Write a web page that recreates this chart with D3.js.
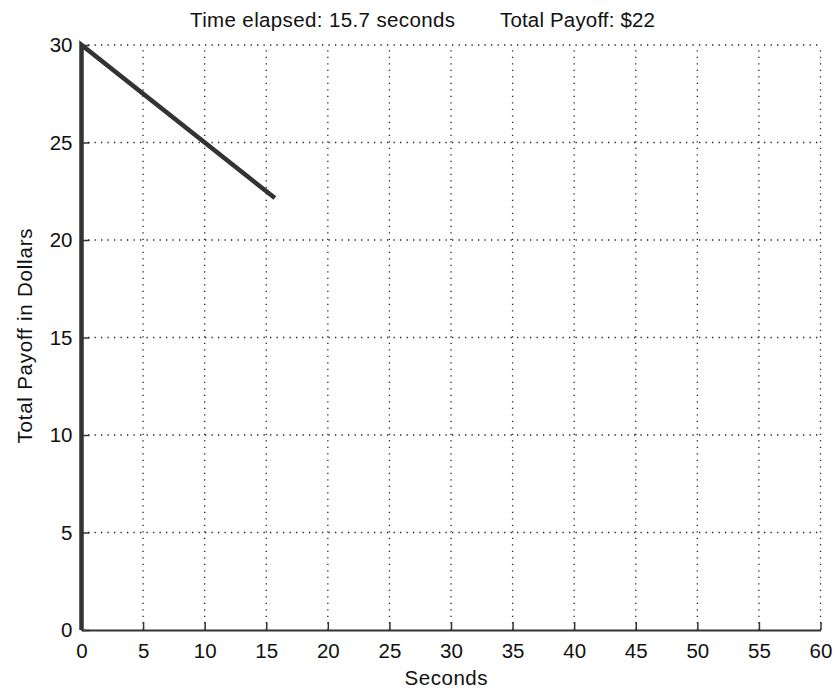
<!DOCTYPE html>
<html><head><meta charset="utf-8">
<script src="https://cdn.jsdelivr.net/npm/d3@7"></script>
<style>body{margin:0;background:#fff}text{font-family:"Liberation Sans",Arial,sans-serif;fill:#111}</style>
</head><body>
<svg id="c" width="835" height="694"></svg>
<script>
const seconds = [0, 0, 15.7];
const payoff = [0, 30, 22.15];
const xTicks = [0,5,10,15,20,25,30,35,40,45,50,55,60];
const yTicks = [0,5,10,15,20,25,30];
const titleLeft = "Time elapsed: 15.7 seconds";
const titleRight = "Total Payoff: $22";

const svg = d3.select("#c");
const W = 835, H = 694;
const m = {l:81.5, r:W-820.5, t:45, b:H-630};
const FS = 20.5;
const x = d3.scaleLinear().domain([0,60]).range([m.l, W-m.r]);
const y = d3.scaleLinear().domain([0,30]).range([H-m.b, m.t]);

const g = svg.append("g");
g.selectAll(".vg").data(xTicks.slice(1)).enter().append("line")
  .attr("x1",d=>x(d)).attr("x2",d=>x(d)).attr("y1",y(0)).attr("y2",y(30))
  .attr("stroke","#222").attr("stroke-width",1.3).attr("stroke-dasharray","1.3,5.2");
g.selectAll(".hg").data(yTicks.slice(1)).enter().append("line")
  .attr("y1",d=>y(d)).attr("y2",d=>y(d)).attr("x1",x(0)).attr("x2",x(60))
  .attr("stroke","#222").attr("stroke-width",1.3).attr("stroke-dasharray","1.3,5.2");

const xAxis = d3.axisBottom(x).tickValues(xTicks).tickSizeInner(-8).tickSizeOuter(0).tickPadding(13);
const yAxis = d3.axisLeft(y).tickValues(yTicks).tickSizeInner(-8).tickSizeOuter(0).tickPadding(9);
const gx = svg.append("g").attr("transform",`translate(0,${y(0)})`).call(xAxis);
const gy = svg.append("g").attr("transform",`translate(${x(0)},0)`).call(yAxis);
[gx,gy].forEach(a=>{
  a.select(".domain").attr("stroke","#333").attr("stroke-width",2);
  a.selectAll(".tick line").attr("stroke","#333").attr("stroke-width",1.5);
  a.selectAll("text").attr("font-size",FS).attr("fill","#111").style("font-family","'Liberation Sans',Arial,sans-serif");
});

const pts = seconds.map((s,i)=>[s,payoff[i]]);
svg.append("path").datum(pts)
  .attr("d", d3.line().x(d=>x(d[0])).y(d=>y(d[1])))
  .attr("fill","none").attr("stroke","#333").attr("stroke-width",4.5).attr("stroke-linejoin","miter");

svg.append("text").attr("x",190).attr("y",27).attr("font-size",FS).attr("textLength",265).attr("lengthAdjust","spacing").text(titleLeft);
svg.append("text").attr("x",500).attr("y",27).attr("font-size",FS).attr("textLength",155).attr("lengthAdjust","spacing").text(titleRight);
svg.append("text").attr("x",446).attr("y",685).attr("text-anchor","middle").attr("font-size",FS).attr("textLength",83).attr("lengthAdjust","spacing").text("Seconds");
svg.append("text").attr("transform",`translate(32,${336}) rotate(-90)`).attr("text-anchor","middle").attr("font-size",FS).attr("textLength",215).attr("lengthAdjust","spacing").text("Total Payoff in Dollars");
</script>
</body></html>
